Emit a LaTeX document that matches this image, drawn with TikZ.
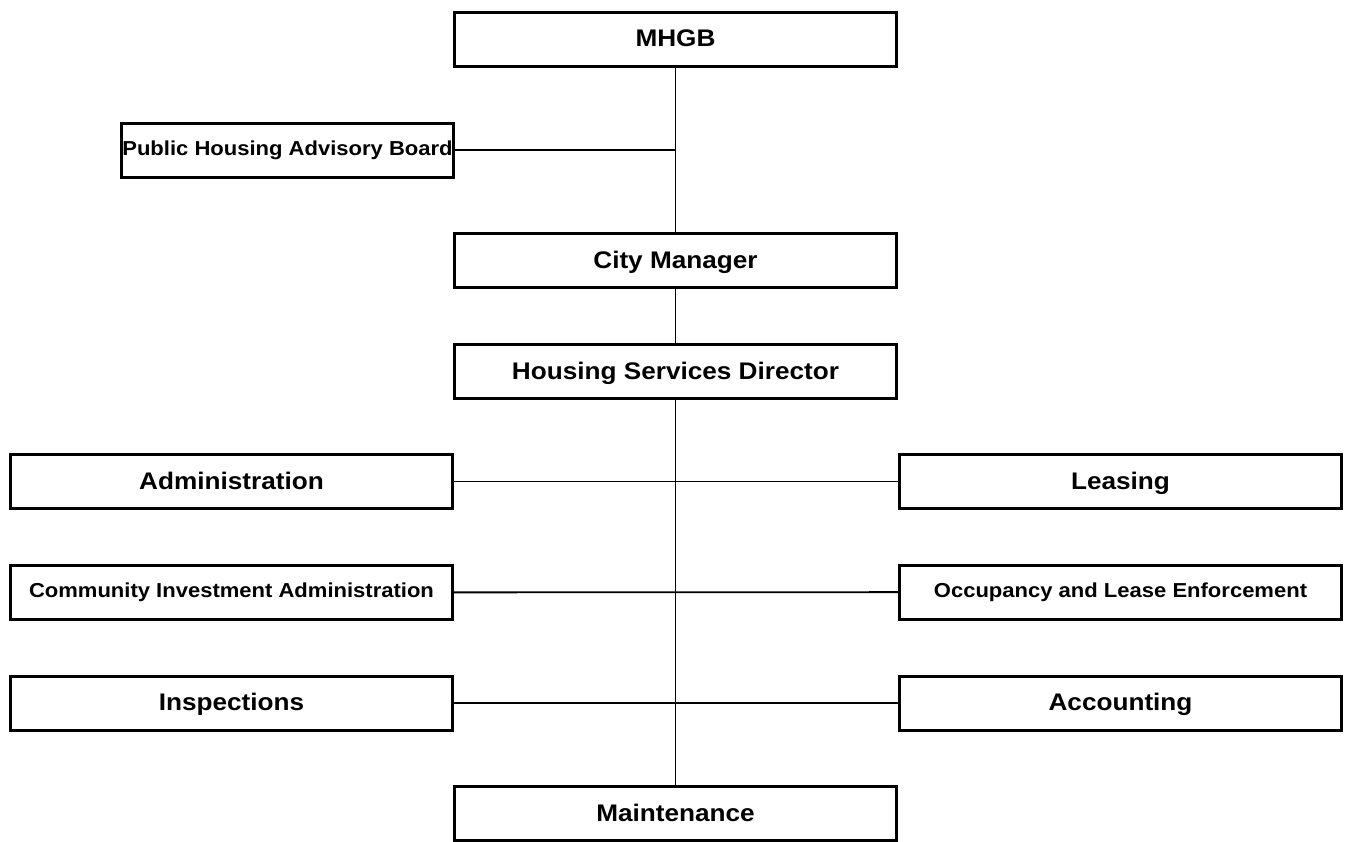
\documentclass[tikz,border=0pt]{standalone}
\usepackage{fontspec}
\setmainfont{Liberation Sans}[FakeStretch=1.09]
\definecolor{ink}{HTML}{000000}
\newcommand{\unitfont}{\fontsize{24}{28}\selectfont\bfseries}
\newcommand{\subfont}{\fontsize{20.2}{24}\selectfont\bfseries}
\tikzset{
  every picture/.style = {line join=miter},
  unit/.style          = {draw=ink, line width=3pt, inner sep=0pt,
                          text height=18pt, text depth=3pt,
                          minimum width=442pt, minimum height=54pt, font=\unitfont},
  subunit/.style       = {unit, text height=13.5pt, font=\subfont},
  link/.style          = {draw=ink, line width=1.8pt},
}

\begin{document}
\begin{tikzpicture}[x=1pt, y=-1pt]
  \useasboundingbox (0,0) rectangle (1348,841);

  % the chain down the middle
  \node[unit] (mhgb)  at (675.5,39)    {MHGB};
  \node[subunit, minimum width=332pt] (phab) at (287.5,150) {Public Housing Advisory Board};
  \node[unit] (city)  at (675.5,260.5) {City Manager};
  \node[unit] (hsd)   at (675.5,371.5) {Housing Services Director};
  \node[unit] (maint) at (675.5,813.5) {Maintenance};

  % divisions on either side of the trunk
  \node[unit]    (admin)  at (231.5,481.5)  {Administration};
  \node[unit]    (lease)  at (1120.5,481.5) {Leasing};
  \node[subunit] (cia)    at (231.5,592.5)  {Community Investment Administration};
  \node[subunit] (occ)    at (1120.5,592)   {Occupancy and Lease Enforcement};
  \node[unit]    (insp)   at (231.5,703)    {Inspections};
  \node[unit]    (acct)   at (1120.5,703)   {Accounting};

  \draw[link] (mhgb) -- (city);
  \draw[link] (city) -- (hsd);
  \draw[link] (hsd)  -- (maint);
  \draw[link] (phab.east) -- (phab.east -| mhgb.south);

  \draw[link] (admin) -- (lease);
  \draw[link] (cia)   -- (occ);
  \draw[link] (insp)  -- (acct);
\end{tikzpicture}
\end{document}
